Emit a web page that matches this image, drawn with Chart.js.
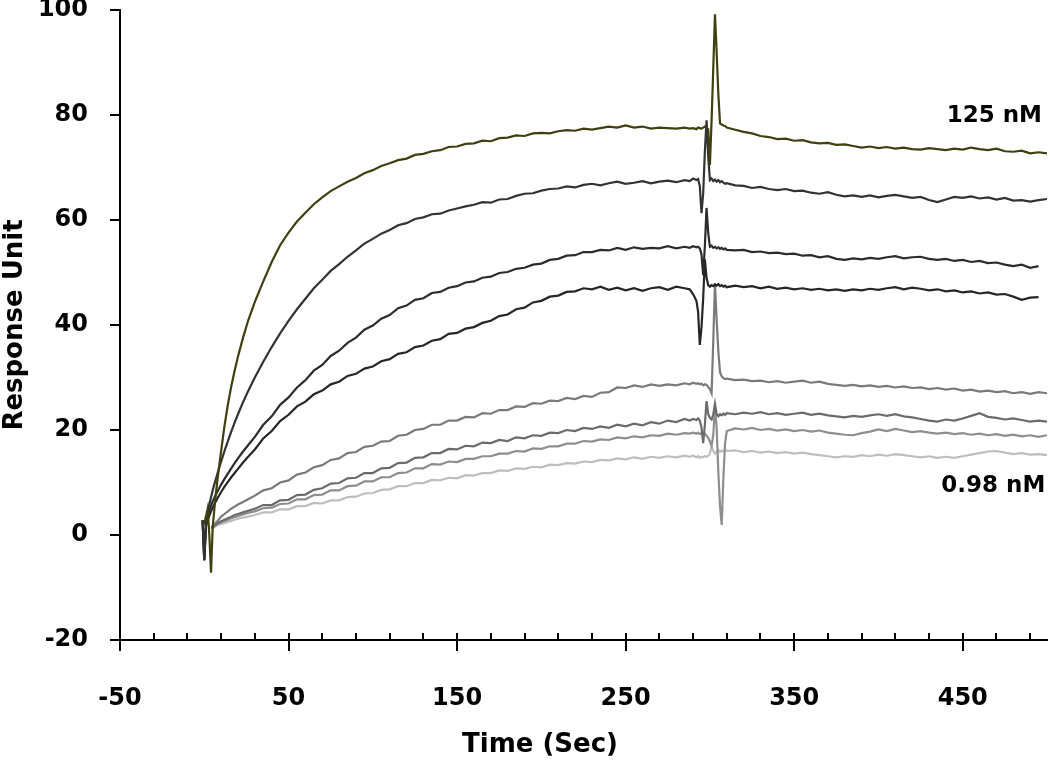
<!DOCTYPE html>
<html>
<head>
<meta charset="utf-8">
<script src="https://cdn.jsdelivr.net/npm/chart.js@4/dist/chart.umd.min.js"></script>
<style>
  body { margin: 0; background: #fff; }
  #wrap { width: 1050px; height: 769px; }
</style>
</head>
<body>
<div id="wrap"><canvas id="grafico"></canvas></div>
<script>
// sample times (sec)
const timeSec = [
  -1, 0, 1, 2, 3, 4, 5, 6, 7, 8,
  10, 12, 14, 16, 18, 20, 23, 26,
  30, 35, 40, 45, 50, 55, 60, 65, 70, 75, 80, 85, 90, 95, 100, 105, 110, 115, 120, 125,
  130, 135, 140, 145, 150, 155, 160, 165, 170, 175, 180, 185, 190, 195, 200, 205, 210, 215,
  220, 225, 230, 235, 240, 245, 250, 255, 260, 265, 270, 275, 280, 285,
  288, 290, 292, 293, 294, 295, 296, 297, 298, 299, 300, 301, 302, 303, 304, 305, 306, 307, 308, 309, 310,
  315, 320, 325, 330, 335, 340, 345, 350, 355, 360, 365, 370, 375, 380, 385, 390, 395, 400, 405,
  410, 415, 420, 425, 430, 435, 440, 445, 450, 455, 460, 465, 470, 475, 480, 485, 490, 495, 500
];

// response units, one array per concentration
const resp125 = [
  2.0, 2.2, 3.5, 5.0, 0.0, -7.2, 1.5, 5.0, 8.2, 11.0,
  16.0, 20.8, 24.8, 28.3, 31.3, 34.0, 37.6, 40.8,
  44.4, 48.3, 52.0, 55.2, 57.6, 59.7, 61.4, 63.0, 64.3, 65.5,
  66.4, 67.3, 68.0, 68.9, 69.5, 70.3, 70.8, 71.4, 71.7, 72.4,
  72.6, 73.1, 73.3, 73.9, 74.0, 74.5, 74.6, 75.1, 75.0, 75.6,
  75.7, 76.1, 76.0, 76.5, 76.6, 76.5, 76.9, 77.1, 77.0, 77.4,
  77.2, 77.5, 77.8, 77.6, 78.0, 77.6, 77.8, 77.4, 77.6, 77.5,
  77.4, 77.6,
  77.4, 77.5, 77.3, 77.6, 77.5, 77.4, 77.6, 77.8, 77.6, 77.3, 70.5, 79.0, 89.0, 99.2, 92.0, 84.0, 78.4, 78.2, 78.0, 77.9, 77.6,
  77.2, 76.8, 76.5, 76.0, 75.8, 75.4, 75.5, 75.1, 75.2, 74.8,
  74.6, 74.7, 74.3, 74.4, 74.1, 73.8, 74.0, 73.7, 73.9, 73.6,
  73.8, 73.5, 73.4, 73.7, 73.5, 73.3, 73.6, 73.4, 73.8, 73.5,
  73.3, 73.6, 73.1, 73.0, 73.2, 72.7, 72.9, 72.7
];
const resp62 = [
  2.8, -4.8, 2.5, 4.2, 5.8, 7.2, 8.5, 9.7, 10.8, 11.9,
  14.0, 16.0, 17.9, 19.7, 21.4, 23.0, 25.3, 27.4,
  30.0, 33.0, 35.8, 38.4, 40.8, 43.0, 45.0, 47.0, 48.6, 50.3,
  51.6, 53.0, 54.2, 55.5, 56.4, 57.4, 58.1, 59.0, 59.4, 60.2,
  60.5, 61.1, 61.2, 61.8, 62.2, 62.6, 62.9, 63.4, 63.3, 63.9,
  64.0, 64.6, 65.0, 65.1, 65.6, 65.9, 66.0, 66.4, 66.2, 66.7,
  66.9, 66.6, 67.0, 67.3, 66.9, 67.1, 67.4, 67.0, 67.3, 67.5,
  67.2, 67.6,
  67.4, 67.9, 67.6, 67.8, 66.5, 61.3, 65.0, 73.0, 79.0, 72.0, 67.6, 67.9, 67.4, 67.7, 67.3, 67.6, 67.2, 67.4, 67.1, 66.9, 67.0,
  66.6, 66.5, 66.1, 66.3, 65.9, 65.7, 65.9, 65.5, 65.6, 65.2,
  65.0, 65.3, 64.8, 64.5, 64.7, 64.4, 64.7, 64.3, 64.6, 64.8,
  64.5, 64.2, 64.4, 63.8, 63.4, 63.9, 64.4, 64.2, 64.5, 64.1,
  64.3, 63.9, 64.2, 63.7, 63.8, 63.5, 63.8, 64.0
];
const resp31 = [
  2.8, -4.8, 2.0, 3.5, 4.7, 5.6, 6.4, 7.1, 7.8, 8.4,
  9.6, 10.7, 11.7, 12.7, 13.7, 14.6, 15.9, 17.1,
  18.7, 21.0, 22.6, 24.8, 26.2, 28.1, 29.5, 31.3, 32.4, 34.1,
  35.1, 36.6, 37.6, 39.1, 39.9, 41.2, 41.9, 43.2, 43.7, 44.8,
  45.1, 46.1, 46.3, 47.1, 47.4, 48.1, 48.3, 49.0, 49.2, 49.9,
  50.1, 50.7, 50.9, 51.5, 51.7, 52.4, 52.6, 53.2, 53.3, 53.9,
  53.9, 54.3, 54.2, 54.7, 54.3, 54.8, 54.5, 54.7, 54.6, 55.0,
  54.6, 54.9,
  54.7, 55.0, 54.8, 54.9, 54.6, 53.5, 49.5, 55.0, 62.3, 57.5, 54.9, 55.1, 54.7, 54.9, 54.6, 54.8, 54.5, 54.7, 54.4, 54.6, 54.3,
  54.2, 54.3, 53.9, 54.0, 53.7, 53.8, 53.5, 53.6, 53.2, 53.3,
  52.9, 53.1, 52.6, 52.4, 52.7, 52.5, 52.8, 52.6, 52.9, 53.1,
  52.7, 52.9, 53.0, 52.6, 52.4, 52.6, 52.2, 52.4, 52.0, 52.2,
  51.8, 51.9, 51.5, 51.2, 51.5, 50.9, 51.2, null
];
const resp16 = [
  2.8, -4.8, 1.6, 2.8, 3.7, 4.5, 5.2, 5.9, 6.5, 7.1,
  8.2, 9.2, 10.1, 11.0, 11.8, 12.6, 13.8, 14.9,
  16.3, 18.4, 19.8, 21.7, 22.9, 24.5, 25.4, 26.8, 27.5, 28.7,
  29.2, 30.3, 30.7, 31.7, 32.1, 33.1, 33.5, 34.5, 34.8, 35.8,
  36.1, 37.0, 37.3, 38.3, 38.5, 39.3, 39.6, 40.4, 40.8, 41.7,
  42.0, 43.0, 43.3, 44.3, 44.6, 45.4, 45.6, 46.3, 46.4, 47.0,
  46.8, 47.3, 46.7, 47.1, 46.6, 47.0, 46.5, 47.0, 47.2, 46.7,
  47.3, 47.0,
  46.8, 45.9, 44.6, 42.5, 36.2, 39.5, 45.0, 52.5, 49.0, 47.6, 47.3, 47.6, 47.4, 47.7, 47.5, 47.8, 47.4, 47.6, 47.3, 47.5, 47.2,
  47.5, 47.2, 47.4, 47.0, 47.3, 46.9, 47.1, 46.8, 47.0, 46.7,
  46.9, 46.6, 46.8, 46.5, 46.8, 46.6, 46.9, 46.7, 47.0, 47.2,
  46.8, 47.1, 46.9, 46.6, 46.8, 46.4, 46.6, 46.2, 46.4, 46.0,
  46.2, 45.8, 45.9, 45.4, 44.8, 45.2, 45.3, null
];
const resp8 = [
  null, null, null, null, null, 1.5, 1.6, 2.0, 2.4, 2.7,
  3.5, 4.0, 4.5, 5.0, 5.4, 5.8, 6.3, 6.8,
  7.5, 8.5, 8.9, 10.0, 10.4, 11.5, 11.9, 12.9, 13.3, 14.3,
  14.6, 15.6, 15.8, 16.8, 17.0, 17.8, 17.9, 18.9, 19.1, 20.0,
  20.2, 21.0, 21.0, 21.8, 21.8, 22.5, 22.4, 23.2, 23.1, 23.8,
  23.8, 24.5, 24.4, 25.1, 25.0, 25.6, 25.5, 26.1, 25.9, 26.5,
  26.3, 27.1, 27.2, 28.1, 28.0, 28.5, 28.2, 28.7, 28.4, 28.7,
  28.5, 28.9,
  28.7, 29.0, 28.8, 28.9, 28.7, 28.8, 28.5, 28.7, 28.6, 28.2, 27.8, 27.0, 37.0, 48.0, 41.0, 35.0, 31.0, 30.2, 29.9, 29.7, 29.8,
  29.5, 29.6, 29.3, 29.4, 29.1, 29.3, 29.0, 29.2, 29.4, 29.0,
  29.2, 28.8, 28.6, 28.4, 28.6, 28.3, 28.5, 28.2, 28.4, 28.1,
  28.3, 28.0, 28.1, 27.8, 28.0, 27.7, 27.9, 27.5, 27.7, 27.3,
  27.5, 27.2, 27.4, 27.0, 27.2, 26.9, 27.2, 27.0
];
const resp4 = [
  null, null, null, null, null, 1.5, 1.5, 1.8, 2.1, 2.3,
  2.6, 2.9, 3.2, 3.5, 3.8, 4.0, 4.3, 4.6,
  5.0, 5.7, 5.7, 6.6, 6.7, 7.6, 7.7, 8.6, 8.9, 9.8,
  9.9, 10.8, 10.9, 11.8, 11.8, 12.7, 12.8, 13.7, 13.8, 14.7,
  14.8, 15.6, 15.6, 16.4, 16.3, 17.0, 16.9, 17.6, 17.5, 18.1,
  17.9, 18.6, 18.4, 19.0, 18.9, 19.5, 19.4, 20.0, 19.8, 20.4,
  20.2, 20.7, 20.4, 21.0, 20.7, 21.2, 20.9, 21.5, 21.2, 21.8,
  21.5, 22.1,
  21.8, 22.1, 21.9, 22.2, 21.8, 20.5, 17.5, 21.0, 25.5, 23.0, 22.3, 22.0, 23.0, 25.0, 23.0, 22.6, 23.0, 22.8, 23.1, 22.9, 23.2,
  23.0, 23.3, 23.1, 23.4, 23.0, 23.2, 22.9, 23.1, 23.3, 22.9,
  23.1, 22.8, 22.6, 22.4, 22.7, 22.5, 22.8, 23.0, 22.7, 23.0,
  22.6, 22.4, 22.1, 21.8, 21.6, 22.0, 21.8, 22.2, 22.7, 23.2,
  22.5, 22.3, 22.0, 22.2, 21.9, 21.6, 21.8, 21.6
];
const resp2 = [
  null, null, null, null, null, 1.5, 1.4, 1.7, 1.9, 2.1,
  2.4, 2.7, 2.9, 3.2, 3.4, 3.6, 3.9, 4.2,
  4.5, 5.1, 5.2, 5.9, 6.0, 6.8, 6.8, 7.6, 7.7, 8.5,
  8.5, 9.3, 9.4, 10.2, 10.2, 11.0, 11.0, 11.8, 11.9, 12.7,
  12.7, 13.5, 13.4, 14.0, 13.9, 14.5, 14.5, 15.0, 15.0, 15.5,
  15.5, 16.0, 15.9, 16.5, 16.4, 16.9, 16.9, 17.4, 17.4, 17.9,
  17.8, 18.2, 18.1, 18.6, 18.4, 18.8, 18.6, 19.0, 18.9, 19.3,
  19.1, 19.4,
  19.3, 19.5, 19.3, 19.5, 19.2, 19.4, 19.1, 19.3, 18.9, 18.5, 17.8, 17.0, 19.0, 24.5, 20.5, 12.0, 5.5, 1.9, 11.0, 17.5, 19.8,
  20.3, 20.1, 20.4, 20.0, 20.2, 19.9, 20.1, 19.8, 20.0, 19.7,
  19.9, 19.5, 19.3, 19.1, 19.0, 19.4, 19.7, 20.1, 19.8, 20.2,
  19.9, 19.6, 19.8, 19.5, 19.3, 19.5, 19.2, 19.4, 19.1, 19.3,
  19.0, 19.2, 18.9, 19.1, 18.8, 19.0, 18.7, 19.0
];
const resp1 = [
  null, null, null, null, null, 1.4, 1.3, 1.5, 1.7, 1.9,
  2.1, 2.3, 2.5, 2.7, 2.9, 3.1, 3.3, 3.5,
  3.8, 4.3, 4.3, 4.9, 4.9, 5.5, 5.5, 6.1, 6.0, 6.6,
  6.6, 7.2, 7.3, 7.9, 8.0, 8.6, 8.7, 9.3, 9.3, 9.9,
  9.9, 10.5, 10.4, 10.9, 10.8, 11.4, 11.3, 11.8, 11.8, 12.3,
  12.2, 12.7, 12.6, 13.0, 12.9, 13.4, 13.3, 13.7, 13.6, 14.0,
  13.9, 14.3, 14.2, 14.6, 14.4, 14.8, 14.5, 14.9, 14.7, 15.0,
  14.8, 15.1,
  14.9, 15.1, 14.8, 15.0, 14.7, 14.9, 14.8, 15.0, 14.9, 15.1, 15.5, 16.8, 16.0, 15.5, 15.9, 16.2, 15.8, 16.1, 15.9, 16.2, 16.0,
  16.1, 15.8, 16.0, 15.7, 15.9, 15.6, 15.8, 15.5, 15.7, 15.4,
  15.2, 15.0, 14.8, 15.0, 14.9, 15.2, 15.0, 15.3, 15.1, 15.4,
  15.2, 15.0, 14.8, 15.0, 14.7, 14.9, 14.7, 15.0, 15.3, 15.6,
  15.9, 16.0, 15.7, 15.4, 15.6, 15.3, 15.4, 15.2
];

const seriesNames = ['125 nM', '62.5 nM', '31.25 nM', '15.6 nM', '7.8 nM', '3.9 nM', '1.95 nM', '0.98 nM'];
const seriesColors = ['#3f3f10', '#333333', '#2c2c2c', '#262626', '#7a7a7a', '#6b6b6b', '#8e8e8e', '#bebebe'];
const allSeries = [resp125, resp62, resp31, resp16, resp8, resp4, resp2, resp1];

// axis ticks
const xMajorTicks = [-50, 50, 150, 250, 350, 450];
const xMinorTicks = [-30, -10, 10, 30, 70, 90, 110, 130, 170, 190, 210, 230,
  270, 290, 310, 330, 370, 390, 410, 430, 470, 490];

const fonte = '"DejaVu Sans", sans-serif';

// extra ticks above the x axis + text labels
const extrasPlugin = {
  id: 'extras',
  afterDraw(chart) {
    const { ctx, chartArea } = chart;
    const sx = chart.scales.x;
    const sy = chart.scales.y;
    ctx.save();
    ctx.strokeStyle = '#000';
    ctx.lineWidth = 2;
    ctx.beginPath();
    xMajorTicks.concat(xMinorTicks).forEach(v => {
      const px = Math.round(sx.getPixelForValue(v));
      ctx.moveTo(px, chartArea.bottom);
      ctx.lineTo(px, chartArea.bottom - 7);
    });
    ctx.stroke();

    ctx.fillStyle = '#000';
    ctx.font = 'bold 23px ' + fonte;
    ctx.textAlign = 'right';
    ctx.textBaseline = 'middle';
    ctx.fillText(seriesNames[0], sx.getPixelForValue(497), sy.getPixelForValue(79.8));
    ctx.fillText(seriesNames[7], sx.getPixelForValue(499), sy.getPixelForValue(9.3));

    ctx.font = 'bold 26px ' + fonte;
    ctx.textAlign = 'center';
    ctx.fillText('Time (Sec)', 540, 745);
    ctx.restore();
  }
};

// no extra room for half-labels at the ends of the axes
function noLabelPadding(scale) {
  scale.paddingTop = 0;
  scale.paddingBottom = 0;
  scale.paddingLeft = 0;
  scale.paddingRight = 0;
}

const datasets = allSeries.map((vals, i) => ({
  label: seriesNames[i],
  data: timeSec.map((t, j) => ({ x: t, y: vals[j] })),
  borderColor: seriesColors[i],
  borderWidth: 2.2,
  pointRadius: 0,
  fill: false,
  tension: 0
}));

new Chart(document.getElementById('grafico'), {
  type: 'line',
  data: { datasets },
  options: {
    responsive: true,
    maintainAspectRatio: false,
    animation: false,
    layout: { padding: { top: 10, right: 3, left: 0, bottom: 0 } },
    plugins: {
      legend: { display: false },
      tooltip: { enabled: false }
    },
    scales: {
      x: {
        type: 'linear',
        min: -50,
        max: 500,
        afterBuildTicks: scale => { scale.ticks = xMajorTicks.map(v => ({ value: v })); },
        afterFit: scale => { scale.height = 129; noLabelPadding(scale); },
        grid: { drawOnChartArea: false, drawTicks: true, tickLength: 11, color: '#000', lineWidth: 2 },
        border: { display: true, color: '#000', width: 2 },
        ticks: {
          autoSkip: false,
          maxRotation: 0,
          padding: 33,
          color: '#000',
          font: { family: fonte, size: 24, weight: 'bold' }
        }
      },
      y: {
        min: -20,
        max: 100,
        afterFit: scale => { scale.width = 120; noLabelPadding(scale); },
        grid: { drawOnChartArea: false, drawTicks: true, tickLength: 10, color: '#000', lineWidth: 2 },
        border: { display: true, color: '#000', width: 2 },
        ticks: {
          stepSize: 20,
          padding: 22,
          color: '#000',
          font: { family: fonte, size: 24, weight: 'bold' }
        },
        title: {
          display: true,
          text: 'Response Unit',
          color: '#000',
          padding: { top: 0, bottom: 0 },
          font: { family: fonte, size: 26, weight: 'bold' }
        }
      }
    }
  },
  plugins: [extrasPlugin]
});
</script>
</body>
</html>
